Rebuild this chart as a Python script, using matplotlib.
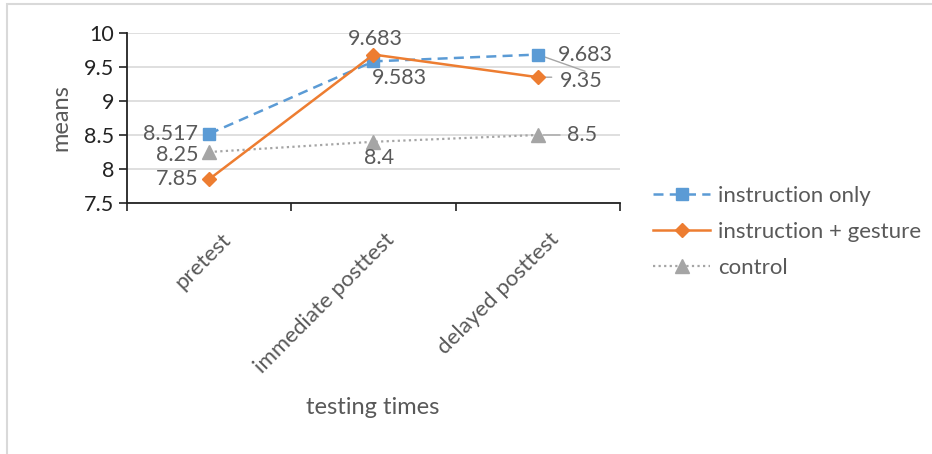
import matplotlib as mpl
mpl.use('Agg')
import matplotlib.pyplot as plt
from matplotlib.patches import Rectangle

# Means per group at each testing time
times = ['pretest', 'immediate posttest', 'delayed posttest']
instruction_only = [8.517, 9.583, 9.683]
instruction_gesture = [7.85, 9.683, 9.35]
control = [8.25, 8.4, 8.5]

BLUE = '#5B9BD5'
ORANGE = '#ED7D31'
GRAY = '#A5A5A5'
TEXT = '#595959'

plt.rcParams['font.family'] = ['Lato', 'DejaVu Sans']
plt.rcParams['font.size'] = 15

fig = plt.figure(figsize=(9.32, 4.54), dpi=100)
ax = fig.add_axes([0.1363, 0.5529, 0.5289, 0.3744])

x = range(len(times))
ax.plot(x, instruction_only, color=BLUE, lw=1.8, ls=(0, (4, 2.5)),
        marker='s', ms=9, label='instruction only', zorder=3)
ax.plot(x, instruction_gesture, color=ORANGE, lw=1.8, marker='D', ms=7.5,
        label='instruction + gesture', zorder=4)
ax.plot(x, control, color=GRAY, lw=1.6, ls=(0, (1, 1.5)), marker='^', ms=10,
        label='control', zorder=2)

ax.set_xlim(-0.5, 2.5)
ax.set_ylim(7.5, 10)
ax.set_yticks([7.5, 8, 8.5, 9, 9.5, 10])
ax.set_yticklabels(['7.5', '8', '8.5', '9', '9.5', '10'])
ax.set_xticks([-0.5, 0.5, 1.5, 2.5])
ax.set_xticklabels([])
ax.tick_params(axis='both', direction='out', length=6, width=1.2,
               color='#222222', labelcolor='#222222', labelsize=15.5, pad=3)
ax.yaxis.grid(True, color='#D9D9D9', lw=1.2)
ax.set_axisbelow(True)
for side in ('top', 'right'):
    ax.spines[side].set_visible(False)
for side in ('left', 'bottom'):
    ax.spines[side].set_color('#222222')
    ax.spines[side].set_linewidth(1.3)

# rotated category labels
for i, name in enumerate(times):
    ax.annotate(name, (i, 7.5), xytext=(8, -19), textcoords='offset points',
                ha='right', va='top', rotation=45, rotation_mode='anchor',
                color=TEXT, fontsize=16)

ax.set_ylabel('means', color=TEXT, fontsize=17, labelpad=9)
fig.text(0.4, 0.102, 'testing times', ha='center', va='center',
         color=TEXT, fontsize=17)


# data labels, offsets in points from the marker
def label(xi, yi, text, dx, dy, ha='center'):
    ax.annotate(text, (xi, yi), xytext=(dx, dy), textcoords='offset points',
                ha=ha, va='center', color=TEXT, fontsize=15.5)


def leader(xi, yi, dx, dy):
    ax.annotate('', (xi, yi), xytext=(dx, dy), textcoords='offset points',
                arrowprops=dict(arrowstyle='-', color=GRAY, lw=1,
                                shrinkA=0, shrinkB=4), zorder=1)


label(0, instruction_only[0], '8.517', -8, 0, ha='right')
label(0, control[0], '8.25', -8, -2, ha='right')
label(0, instruction_gesture[0], '7.85', -8, 0, ha='right')
label(1, instruction_gesture[1], '9.683', 1.5, 11)
label(1, instruction_only[1], '9.583', 19, -12)
label(1, control[1], '8.4', 4, -11.5)
label(2, instruction_only[2], '9.683', 14.5, 0, ha='left')
leader(2, instruction_only[2], 34, -12)
label(2, instruction_gesture[2], '9.35', 16, -3, ha='left')
leader(2, instruction_gesture[2], 10, 0)
label(2, control[2], '8.5', 21, 0, ha='left')
leader(2, control[2], 16, 0)

leg = fig.legend(loc='center left', bbox_to_anchor=(0.7006, 0.489),
                 frameon=False, fontsize=16, handlelength=2.57,
                 labelspacing=0.72, handletextpad=0.36,
                 borderpad=0, borderaxespad=0)
for t in leg.get_texts():
    t.set_color(TEXT)

# light frame round the chart area
fig.patches.append(Rectangle((0.0075, -0.01), 1.1, 1.001,
                             transform=fig.transFigure,
                             fill=False, ec='#D9D9D9', lw=1.5))

fig.savefig('out.png', dpi=100, facecolor='white')
